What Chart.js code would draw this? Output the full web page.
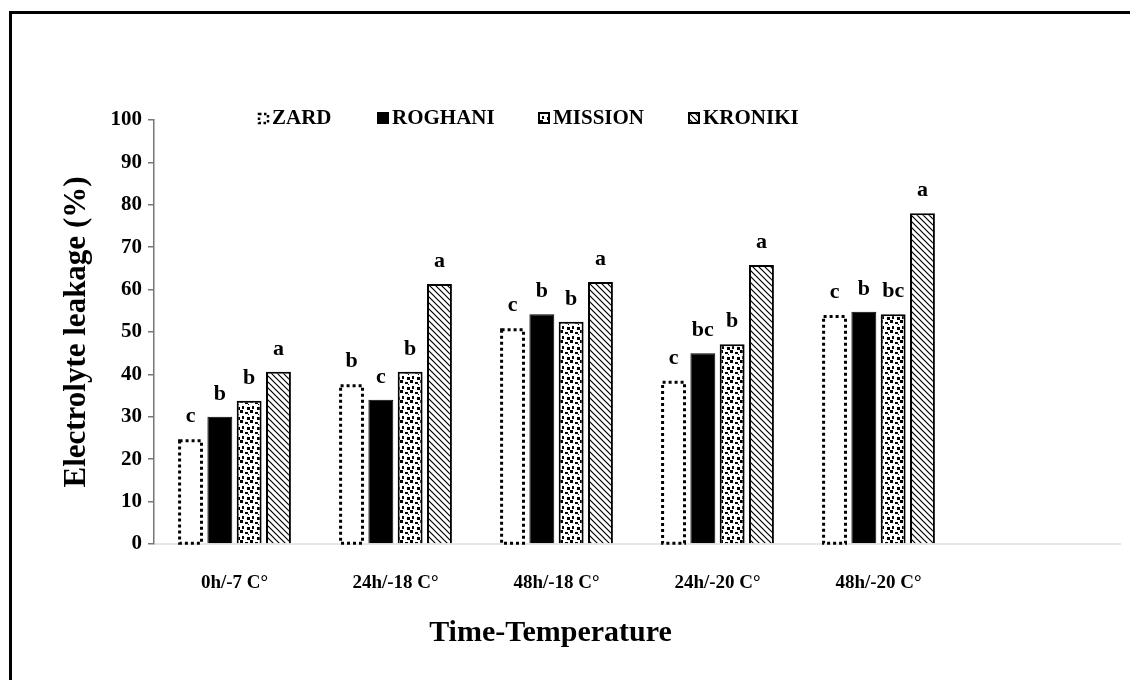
<!DOCTYPE html>
<html>
<head>
<meta charset="utf-8">
<script src="https://cdn.jsdelivr.net/npm/chart.js@4.4.1/dist/chart.umd.min.js"></script>
<style>
  html, body { margin: 0; padding: 0; background: #fff; overflow: hidden; }
  #frame { position: absolute; left: 9px; top: 11px; width: 1300px; height: 900px; border: 3px solid #000; }
  #wrap { position: absolute; left: 0; top: 0; width: 1130px; height: 680px; }
</style>
</head>
<body>
<div id="frame"></div>
<div id="wrap"><canvas id="chart"></canvas></div>
<script>
// Datos
const categories = ["0h/-7 C°", "24h/-18 C°", "48h/-18 C°", "24h/-20 C°", "48h/-20 C°"];
const seriesNames = ["ZARD", "ROGHANI", "MISSION", "KRONIKI"];
const zard = [24.7, 37.7, 50.9, 38.5, 54.0];
const roghani = [30.0, 34.0, 54.2, 45.0, 54.8];
const mission = [33.8, 40.6, 52.4, 47.1, 54.2];
const kroniki = [40.6, 61.3, 61.8, 65.8, 78.0];
// letras de significancia (por serie)
const zardLetters = ["c", "b", "c", "c", "c"];
const roghaniLetters = ["b", "c", "b", "bc", "b"];
const missionLetters = ["b", "b", "b", "b", "bc"];
const kronikiLetters = ["a", "a", "a", "a", "a"];
const yTicks = [0, 10, 20, 30, 40, 50, 60, 70, 80, 90, 100];

const SERIF = "'Liberation Serif', 'Times New Roman', serif";

// Patrones de relleno
function makeTile(size, draw) {
  const c = document.createElement("canvas");
  c.width = size;
  c.height = size;
  const g = c.getContext("2d");
  g.fillStyle = "#fff";
  g.fillRect(0, 0, size, size);
  draw(g);
  return c;
}

const dotsTile = makeTile(10, g => {
  g.fillStyle = "#000";
  g.fillRect(0, 0, 3, 3);
  g.fillRect(5, 2, 3, 2);
  g.fillRect(2, 6, 2, 3);
  g.fillRect(7, 7, 3, 3);
  g.fillRect(8, 4, 1, 1);
});

const hatchTile = makeTile(6, g => {
  g.strokeStyle = "#000";
  g.lineWidth = 1.2;
  g.beginPath();
  g.moveTo(-1, -1); g.lineTo(7, 7);
  g.moveTo(-4, 2); g.lineTo(4, 10);
  g.moveTo(2, -4); g.lineTo(10, 4);
  g.stroke();
});

const ctx = document.getElementById("chart").getContext("2d");
const dotsPattern = ctx.createPattern(dotsTile, "repeat");
const hatchPattern = ctx.createPattern(hatchTile, "repeat");

const letters = [zardLetters, roghaniLetters, missionLetters, kronikiLetters];

// Plugin: contorno punteado de ZARD, letras, leyenda y título del eje X
const extrasPlugin = {
  id: "extras",
  afterDatasetsDraw(chart) {
    const c = chart.ctx;
    // contorno punteado para ZARD
    const meta0 = chart.getDatasetMeta(0);
    c.save();
    c.strokeStyle = "#000";
    c.lineWidth = 3;
    c.setLineDash([3, 3]);
    meta0.data.forEach(el => {
      const p = el.getProps(["x", "y", "base", "width"], true);
      c.strokeRect(p.x - p.width / 2 + 1.5, p.y + 1.5, p.width - 3, p.base - p.y - 1.5);
    });
    c.restore();

    // letras sobre las barras
    c.save();
    c.fillStyle = "#000";
    c.font = "bold 22px " + SERIF;
    c.textAlign = "center";
    c.textBaseline = "alphabetic";
    chart.data.datasets.forEach((ds, i) => {
      chart.getDatasetMeta(i).data.forEach((el, j) => {
        if (letters[i][j] === undefined) return;
        c.fillText(letters[i][j], el.x, el.y - 17);
      });
    });
    c.restore();
  },
  afterDraw(chart) {
    const c = chart.ctx;
    // leyenda
    const legendX = [257, 377, 538, 688];
    const legendY = 118;
    c.save();
    c.font = "bold 21px " + SERIF;
    c.textBaseline = "middle";
    c.fillStyle = "#000";
    chart.data.datasets.forEach((ds, i) => {
      const x = legendX[i];
      const bx = x + 1, by = legendY - 5, bs = 10;
      if (i === 0) {
        c.save();
        c.strokeStyle = "#000";
        c.lineWidth = 2.5;
        c.setLineDash([2.5, 2.5]);
        c.strokeRect(bx + 1, by + 1, bs - 1, bs - 1);
        c.restore();
      } else {
        c.fillStyle = ds.backgroundColor;
        c.fillRect(bx, by, bs, bs);
        c.strokeStyle = "#000";
        c.lineWidth = 2;
        c.strokeRect(bx, by, bs, bs);
      }
      c.fillStyle = "#000";
      c.fillText(ds.label, bx + bs + 4, legendY + 1);
    });

    // título del eje X
    const xScale = chart.scales.x;
    c.font = "bold 30px " + SERIF;
    c.textAlign = "center";
    c.textBaseline = "middle";
    c.fillText("Time-Temperature", xScale.getPixelForValue(2) - 6, 633);
    c.restore();
  }
};

new Chart(ctx, {
  type: "bar",
  data: {
    // el eje original deja un hueco vacío a la derecha
    labels: [...categories, ""],
    datasets: [
      {
        label: seriesNames[0],
        data: zard,
        backgroundColor: "#fff",
        borderWidth: 0
      },
      {
        label: seriesNames[1],
        data: roghani,
        backgroundColor: "#000",
        borderColor: "#000",
        borderWidth: 1
      },
      {
        label: seriesNames[2],
        data: mission,
        backgroundColor: dotsPattern,
        borderColor: "#000",
        borderWidth: 2
      },
      {
        label: seriesNames[3],
        data: kroniki,
        backgroundColor: hatchPattern,
        borderColor: "#000",
        borderWidth: 2
      }
    ]
  },
  options: {
    responsive: true,
    maintainAspectRatio: false,
    animation: false,
    categoryPercentage: 0.728,
    barPercentage: 0.85,
    layout: { padding: { left: 0, top: 120, right: 10, bottom: 0 } },
    plugins: {
      legend: { display: false },
      title: { display: false },
      tooltip: { enabled: false }
    },
    scales: {
      x: {
        grid: { display: false, drawTicks: false },
        border: { display: true, color: "#e6e6e6", width: 2 },
        ticks: {
          color: "#000",
          font: { family: SERIF, size: 19, weight: "bold" },
          padding: 28,
          maxRotation: 0,
          autoSkip: false
        },
        afterFit(scale) { scale.height = 136; }
      },
      y: {
        min: 0,
        max: 100,
        afterBuildTicks(scale) { scale.ticks = yTicks.map(v => ({ value: v })); },
        grid: {
          display: true,
          drawOnChartArea: false,
          drawTicks: true,
          tickLength: 6,
          color: "#777",
          lineWidth: 1.5
        },
        border: { display: true, color: "#777", width: 1.5 },
        ticks: {
          color: "#000",
          font: { family: SERIF, size: 21, weight: "bold" },
          padding: 6
        },
        title: {
          display: true,
          text: "Electrolyte leakage (%)",
          color: "#000",
          font: { family: SERIF, size: 31, weight: "bold" },
          padding: { top: 58, bottom: 0 }
        },
        afterFit(scale) { scale.width = 154; }
      }
    }
  },
  plugins: [extrasPlugin]
});
</script>
</body>
</html>
